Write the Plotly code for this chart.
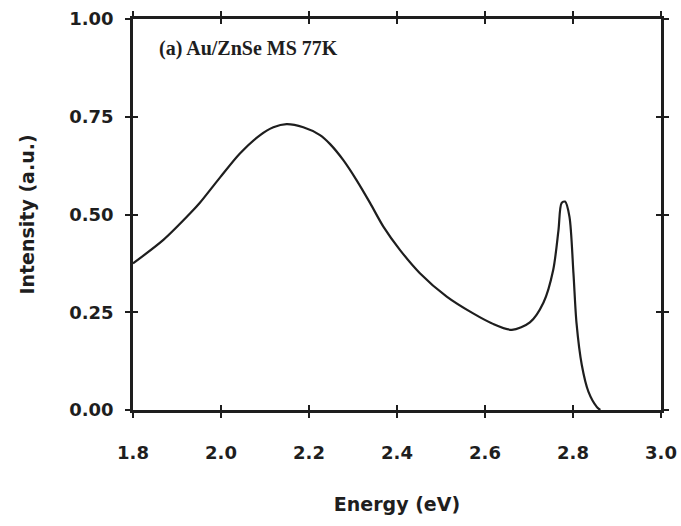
import plotly.graph_objects as go

# Photoluminescence spectrum, Au/ZnSe MS at 77 K
energy_ev = [1.800, 1.869, 1.930, 1.952, 1.998, 2.043, 2.089, 2.119, 2.149, 2.187,
             2.225, 2.248, 2.278, 2.308, 2.339, 2.369, 2.407, 2.452, 2.513, 2.573,
             2.615, 2.661, 2.702, 2.733, 2.755, 2.767, 2.774, 2.782, 2.792, 2.801,
             2.808, 2.820, 2.835, 2.854, 2.862]
intensity = [0.375, 0.435, 0.503, 0.530, 0.595, 0.656, 0.703, 0.723, 0.731, 0.723,
             0.703, 0.680, 0.639, 0.588, 0.529, 0.469, 0.409, 0.350, 0.290, 0.247,
             0.222, 0.205, 0.224, 0.275, 0.358, 0.460, 0.529, 0.533, 0.494, 0.350,
             0.222, 0.115, 0.047, 0.008, 0.0]

x_ticks = [1.8, 2.0, 2.2, 2.4, 2.6, 2.8, 3.0]
x_tick_text = ["1.8", "2.0", "2.2", "2.4", "2.6", "2.8", "3.0"]
y_ticks = [0.0, 0.25, 0.50, 0.75, 1.00]
y_tick_text = ["0.00", "0.25", "0.50", "0.75", "1.00"]

ink = "#1e1e1e"
tick_font = dict(family="DejaVu Sans", size=18, color=ink, weight="bold")
title_font = dict(family="DejaVu Sans", size=19, color=ink, weight="bold")

fig = go.Figure()
fig.add_trace(go.Scatter(
    x=energy_ev, y=intensity, mode="lines",
    line=dict(color=ink, width=2.2, shape="spline", smoothing=0.8),
    showlegend=False, hoverinfo="skip",
))
# invisible trace bound to the overlay axes that draw the inward half of each tick
fig.add_trace(go.Scatter(x=[1.8], y=[0], xaxis="x2", yaxis="y2",
                         mode="markers", marker=dict(opacity=0),
                         showlegend=False, hoverinfo="skip"))

axis_common = dict(showline=True, linecolor=ink, linewidth=2.5, showgrid=False,
                   zeroline=False, tickcolor=ink, tickwidth=2, ticklen=5,
                   automargin=False)

fig.update_layout(
    width=681, height=526,
    margin=dict(l=133, r=20, t=19, b=116),
    paper_bgcolor="white", plot_bgcolor="white",
    xaxis=dict(range=[1.8, 3.0], tickvals=x_ticks, ticktext=x_tick_text,
               ticks="outside", mirror="ticks", tickfont=tick_font,
               ticklabelstandoff=20,
               title=dict(text="Energy (eV)", font=title_font, standoff=36),
               **axis_common),
    yaxis=dict(range=[0, 1.0], tickvals=y_ticks, ticktext=y_tick_text,
               ticks="outside", mirror="ticks", tickfont=tick_font,
               ticklabelstandoff=8,
               title=dict(text="Intensity (a.u.)", font=title_font, standoff=30),
               **axis_common),
    xaxis2=dict(range=[1.8, 3.0], tickvals=x_ticks, overlaying="x", matches="x",
                ticks="inside", mirror="ticks", showticklabels=False, **axis_common),
    yaxis2=dict(range=[0, 1.0], tickvals=y_ticks, overlaying="y", matches="y",
                ticks="inside", mirror="ticks", showticklabels=False, **axis_common),
    annotations=[dict(
        text="(a) Au/ZnSe MS 77K", xref="paper", yref="paper",
        x=0.045, y=0.925, xanchor="left", yanchor="middle", showarrow=False,
        font=dict(family="Liberation Serif", size=20, color=ink, weight="bold"),
    )],
)

fig.write_html("out.html")
